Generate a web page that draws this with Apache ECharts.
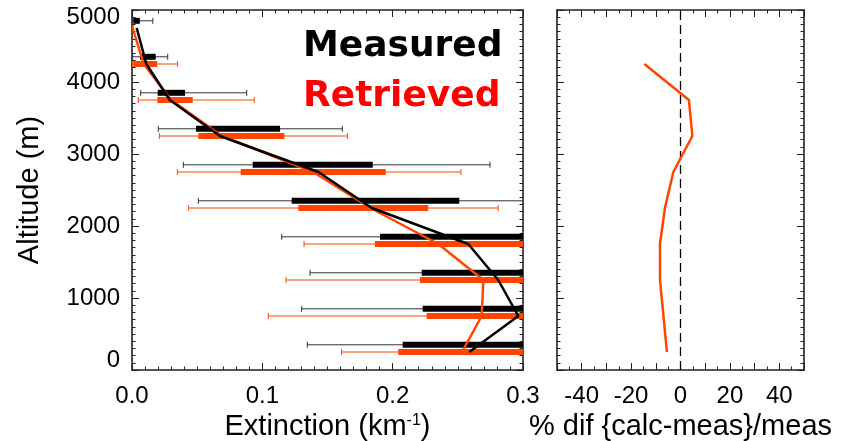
<!DOCTYPE html>
<html>
<head>
<meta charset="utf-8">
<script src="https://cdn.jsdelivr.net/npm/echarts@6/dist/echarts.min.js"></script>
<style>html,body{margin:0;padding:0;background:#fff;}#c{width:851px;height:441px;}</style>
</head>
<body>
<div id="c"></div>
<script>
// ---- data ----
const altMeas   = [4850, 4350, 3850, 3350, 2850, 2350, 1850, 1350, 850, 350];
const altRetr   = [4750, 4250, 3750, 3250, 2750, 2250, 1750, 1250, 750, 250];
const measBarLo = [0.001, 0.0061, 0.0197, 0.0491, 0.0926, 0.1225, 0.1903, 0.2223, 0.2230, 0.2077];
const measBarHi = [0.006, 0.0182, 0.0407, 0.1136, 0.1847, 0.2511, 0.36, 0.36, 0.37, 0.33];
const measErrLo = [0.0005, 0.0005, 0.0067, 0.0202, 0.0394, 0.0509, 0.1149, 0.1366, 0.1302, 0.1345];
const measErrHi = [0.016, 0.0274, 0.088, 0.1614, 0.2747, 0.33, 0.42, 0.45, 0.46, 0.40];
const retrBarLo = [0, 0.001, 0.0194, 0.0509, 0.0834, 0.1276, 0.1864, 0.2210, 0.2261, 0.2043];
const retrBarHi = [0.001, 0.0194, 0.0466, 0.1169, 0.1947, 0.2273, 0.37, 0.37, 0.38, 0.32];
const retrErrLo = [0, 0.0005, 0.0048, 0.021, 0.0348, 0.0432, 0.132, 0.1182, 0.1046, 0.1609];
const retrErrHi = [0.001, 0.035, 0.0938, 0.1652, 0.2524, 0.281, 0.43, 0.45, 0.48, 0.36];
const measLine  = [0.0036, 0.011, 0.029, 0.0675, 0.143, 0.184, 0.258, 0.281, 0.2964, 0.2588];
const retrLine  = [0.0005, 0.009, 0.030, 0.069, 0.139, 0.183, 0.235, 0.2696, 0.2683, 0.2532];
const pctAlt    = [4250, 3750, 3250, 2750, 2250, 1750, 1250, 750, 250];
const pctDiff   = [-14.6, 3.4, 4.8, -2.9, -6.3, -8.3, -8.3, -6.9, -5.5];
const extTicks  = [0, 0.1, 0.2, 0.3];
const pctTicks  = [-40, -20, 0, 20, 40];

// ---- styles ----
const ORANGE = '#ff4500';
const FONT = 'Liberation Sans';
const frame = {color: '#222', width: 1.6};

function rows(alt, blo, bhi, elo, ehi) {
  return alt.map((a, i) => [a, blo[i], bhi[i], elo[i], ehi[i]]);
}
function errRender(thick, thin) {
  return function (params, api) {
    const a = api.value(0);
    const pEl = api.coord([api.value(3), a]);
    const pEh = api.coord([api.value(4), a]);
    const pBl = api.coord([api.value(1), a]);
    const pBh = api.coord([api.value(2), a]);
    const y = pBl[1];
    const thinStyle = {stroke: thin, lineWidth: 1};
    return {
      type: 'group',
      children: [
        {type: 'line', shape: {x1: pEl[0], y1: y, x2: pEh[0], y2: y}, style: thinStyle},
        {type: 'line', shape: {x1: pEl[0], y1: y - 3, x2: pEl[0], y2: y + 3}, style: thinStyle},
        {type: 'line', shape: {x1: pEh[0], y1: y - 3, x2: pEh[0], y2: y + 3}, style: thinStyle},
        {type: 'rect', shape: {x: pBl[0], y: y - 3, width: pBh[0] - pBl[0], height: 6}, style: {fill: thick}}
      ]
    };
  };
}
function xAx(grid, pos, min, max, interval, minorSplit, labels, extra) {
  return Object.assign({
    gridIndex: grid, type: 'value', position: pos, min: min, max: max, interval: interval,
    axisLine: {show: true, onZero: false, lineStyle: frame},
    axisTick: {show: true, inside: true, length: 7, lineStyle: {color: '#222', width: 1}},
    minorTick: {show: true, splitNumber: minorSplit, length: 3.5, lineStyle: {color: '#222', width: 1}},
    splitLine: {show: false}, minorSplitLine: {show: false},
    axisLabel: labels
  }, extra || {});
}
const noLabel = {show: false};
const tickLabel = (fmt, margin) => ({show: true, color: '#000', fontFamily: FONT, fontSize: 24, margin: margin, formatter: fmt,
  rich: {lo: {fontFamily: FONT, fontSize: 24, color: '#000', padding: [0, 0, 20, 0]},
         hi: {fontFamily: FONT, fontSize: 24, color: '#000', padding: [14, 0, 0, 0]}}});

const chart = echarts.init(document.getElementById('c'), null, {renderer: 'canvas'});
chart.setOption({
  animation: false,
  backgroundColor: '#fff',
  grid: [
    {left: 132, top: 10, width: 391, height: 360, containLabel: false, outerBoundsMode: 'none'},
    {left: 557, top: 10, width: 247, height: 360, containLabel: false, outerBoundsMode: 'none'}
  ],
  xAxis: [
    xAx(0, 'bottom', 0, 0.3, 0.1, 10,
      tickLabel(v => extTicks.some(t => Math.abs(t - v) < 1e-9) ? v.toFixed(1) : '', 14),
      {name: 'Extinction (km{sup|-1})', nameLocation: 'middle', nameGap: 37,
       nameTextStyle: {color: '#000', fontFamily: FONT, fontSize: 29, lineHeight: 29,
         rich: {sup: {fontFamily: FONT, fontSize: 16, verticalAlign: 'top', lineHeight: 29, padding: [0, 0, 12, 0]}}}}),
    xAx(0, 'top', 0, 0.3, 0.1, 10, noLabel),
    xAx(1, 'bottom', -50, 50, 10, 2,
      tickLabel(v => pctTicks.indexOf(Math.round(v)) >= 0 ? String(Math.round(v)) : '', 14),
      {name: '% dif {calc-meas}/meas', nameLocation: 'middle', nameGap: 37,
       nameTextStyle: {color: '#000', fontFamily: FONT, fontSize: 29, lineHeight: 29}}),
    xAx(1, 'top', -50, 50, 10, 2, noLabel)
  ],
  yAxis: [
    xAx(0, 'left', 0, 5000, 1000, 10,
      tickLabel(v => v === 0 ? '{lo|0}' : (v === 5000 ? '{hi|5000}' : String(v)), 12),
      {name: 'Altitude (m)', nameLocation: 'middle', nameGap: 88, nameRotate: 90,
       nameTextStyle: {color: '#000', fontFamily: FONT, fontSize: 29}}),
    xAx(0, 'right', 0, 5000, 1000, 10, noLabel),
    xAx(1, 'left', 0, 5000, 1000, 10, noLabel),
    xAx(1, 'right', 0, 5000, 1000, 10, noLabel)
  ],
  series: [
    {type: 'custom', xAxisIndex: 0, yAxisIndex: 0, clip: true, z: 2,
     renderItem: errRender('#000', '#333'),
     data: rows(altMeas, measBarLo, measBarHi, measErrLo, measErrHi)},
    {type: 'custom', xAxisIndex: 0, yAxisIndex: 0, clip: true, z: 2,
     renderItem: errRender(ORANGE, ORANGE),
     data: rows(altRetr, retrBarLo, retrBarHi, retrErrLo, retrErrHi)},
    {type: 'line', xAxisIndex: 0, yAxisIndex: 0, z: 3, showSymbol: false, clip: true,
     lineStyle: {color: ORANGE, width: 2.5}, itemStyle: {color: ORANGE},
     data: altRetr.map((a, i) => [retrLine[i], a])},
    {type: 'line', xAxisIndex: 0, yAxisIndex: 0, z: 4, showSymbol: false, clip: true,
     lineStyle: {color: '#000', width: 2.5}, itemStyle: {color: '#000'},
     data: altRetr.map((a, i) => [measLine[i], a])},
    {type: 'line', xAxisIndex: 2, yAxisIndex: 2, z: 3, showSymbol: false,
     lineStyle: {color: '#000', width: 1.3, type: [9, 5]},
     data: [[0, 0], [0, 5000]]},
    {type: 'line', xAxisIndex: 2, yAxisIndex: 2, z: 4, showSymbol: false,
     lineStyle: {color: ORANGE, width: 2.5}, itemStyle: {color: ORANGE},
     data: pctAlt.map((a, i) => [pctDiff[i], a])}
  ],
  graphic: [
    {type: 'text', x: 303, y: 46.5, z: 10,
     style: {text: 'Measured', fill: '#000', font: 'bold 36px "DejaVu Sans"', textVerticalAlign: 'middle'}},
    {type: 'text', x: 303, y: 96.5, z: 10,
     style: {text: 'Retrieved', fill: '#ff0000', font: 'bold 36px "DejaVu Sans"', textVerticalAlign: 'middle'}}
  ]
});
</script>
</body>
</html>
